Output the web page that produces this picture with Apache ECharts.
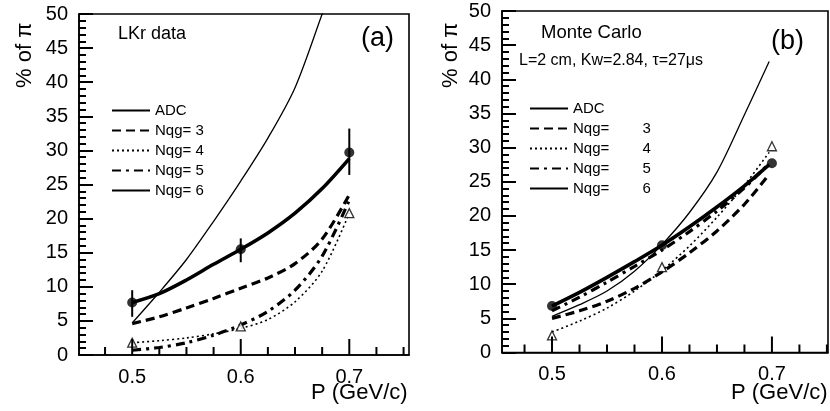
<!DOCTYPE html>
<html>
<head>
<meta charset="utf-8">
<script src="https://cdn.jsdelivr.net/npm/echarts@6/dist/echarts.min.js"></script>
<style>html,body{margin:0;padding:0;background:#fff;}#c{width:830px;height:411px;}</style>
</head>
<body>
<div id="c"></div>
<script>
// ---------- tick labels / tick positions ----------
const xMajorTicks = [0.5, 0.6, 0.7];
const xMinorTicks = [0.475, 0.525, 0.55, 0.575, 0.625, 0.65, 0.675, 0.725, 0.75];
const yMajorTicks = [0, 5, 10, 15, 20, 25, 30, 35, 40, 45, 50];
const yMinorTicks = [1, 2, 3, 4, 6, 7, 8, 9, 11, 12, 13, 14, 16, 17, 18, 19, 21, 22, 23, 24,
                     26, 27, 28, 29, 31, 32, 33, 34, 36, 37, 38, 39, 41, 42, 43, 44, 46, 47, 48, 49];

// ---------- panel (a): LKr data ----------
const pA = [0.5, 0.525, 0.55, 0.575, 0.6, 0.625, 0.65, 0.675, 0.7];
const a_adc  = [7.7, 9.0, 11.0, 13.3, 15.5, 17.9, 20.8, 24.4, 28.8];
const a_nqg3 = [4.6, 5.6, 6.9, 8.3, 9.8, 11.3, 13.4, 17.0, 23.5];
const a_nqg4 = [1.8, 2.1, 2.5, 3.1, 3.9, 5.2, 7.8, 12.3, 20.8];
const a_nqg5 = [0.7, 1.1, 1.8, 2.9, 4.4, 6.4, 9.5, 14.5, 22.7];
const a_nqg6 = [4.7, 9.2, 14.0, 19.6, 25.5, 31.8, 39.2, 50.0, 61.0];
const a_adcPts = [[0.5,7.7],[0.6,15.5],[0.7,29.7]];
const a_adcErr = [[0.5,5.6,9.5],[0.6,13.6,17.1],[0.7,26.4,33.2]];
const a_triPts = [[0.5,1.8],[0.6,4.2],[0.7,20.8]];

// ---------- panel (b): Monte Carlo ----------
const pB = [0.5, 0.525, 0.55, 0.575, 0.6, 0.625, 0.65, 0.675, 0.6975];
const b_adc  = [6.8, 8.8, 11.0, 13.3, 15.7, 18.4, 21.3, 24.4, 27.5];
const b_nqg3 = [5.0, 6.1, 7.5, 9.4, 11.8, 14.6, 17.8, 21.7, 26.1];
const b_nqg4 = [3.0, 4.6, 6.5, 9.0, 12.0, 15.6, 19.8, 24.5, 29.3];
const b_nqg5 = [6.1, 8.1, 10.3, 12.6, 15.0, 17.7, 20.7, 24.1, 27.7];
const b_nqg6 = [5.3, 7.0, 9.0, 11.9, 15.8, 20.5, 26.4, 34.8, 42.6];
const b_adcPts = [[0.5,6.8],[0.6,15.7],[0.7,27.7]];
const b_triPts = [[0.5,2.5],[0.6,12.5],[0.7,30.2]];

const seriesNames = ['ADC', 'Nqg= 3', 'Nqg= 4', 'Nqg= 5', 'Nqg= 6'];

const FONT = 'Liberation Sans';
const styles = {
  'ADC':    {width: 3.6, type: 'solid'},
  'Nqg= 3': {width: 3.2, type: [9, 5]},
  'Nqg= 4': {width: 1.6, type: [2, 3]},
  'Nqg= 5': {width: 3.2, type: [9, 5, 3, 5]},
  'Nqg= 6': {width: 1.3, type: 'solid'}
};
const xRange = [[0.451, 0.755], [0.4545, 0.751]];
const gridPx = [{left: 79, top: 14, width: 330, height: 341}, {left: 502, top: 11, width: 326, height: 341.5}];

const zip = (xs, ys) => xs.map((x, i) => [x, ys[i]]);

function lineSeries(name, data, gi) {
  return {
    name, type: 'line', xAxisIndex: gi, yAxisIndex: gi, data,
    smooth: 0.3, symbol: 'none', clip: true,
    lineStyle: {color: '#000', width: styles[name].width, type: styles[name].type},
    itemStyle: {color: '#000'}, z: 3
  };
}

function xAxis(gi) {
  return {type: 'value', gridIndex: gi, min: xRange[gi][0], max: xRange[gi][1], position: 'bottom',
    axisLine: {show: true, onZero: false, lineStyle: {color: '#000', width: 1.6}},
    axisTick: {show: false},
    axisLabel: {show: true, customValues: xMajorTicks, color: '#000', fontSize: 20, fontFamily: FONT, margin: 12,
                formatter: v => v.toFixed(1)},
    splitLine: {show: false}};
}
function yAxis(gi) {
  return {type: 'value', gridIndex: gi, min: 0, max: 50, interval: 5, position: 'left',
    axisLine: {show: true, onZero: false, lineStyle: {color: '#000', width: 1.6}},
    axisTick: {show: true, inside: true, length: 14, lineStyle: {color: '#000', width: 2}},
    minorTick: {show: true, splitNumber: 5, length: 7, lineStyle: {color: '#000', width: 2}},
    axisLabel: {show: true, color: '#000', fontSize: 20, fontFamily: FONT, margin: 11},
    splitLine: {show: false}};
}

// inward x tick marks as short segments through the axis scales (px length converted to data units)
function xTicks(gi, values, lenPx) {
  const dy = lenPx * 50 / gridPx[gi].height;
  return {
    type: 'custom', xAxisIndex: gi, yAxisIndex: gi, z: 6,
    data: values.map(v => [v, 0, dy]),
    encode: {x: 0, y: [1, 2]},
    renderItem: (params, api) => {
      const p1 = api.coord([api.value(0), api.value(1)]);
      const p2 = api.coord([api.value(0), api.value(2)]);
      return {type: 'line', shape: {x1: p1[0], y1: p1[1], x2: p2[0], y2: p2[1]},
              style: {stroke: '#000', lineWidth: 2}};
    }
  };
}

function errSeries(data, gi) {
  return {
    type: 'custom', xAxisIndex: gi, yAxisIndex: gi, data, z: 4,
    encode: {x: 0, y: [1, 2]},
    renderItem: (params, api) => {
      const p1 = api.coord([api.value(0), api.value(1)]);
      const p2 = api.coord([api.value(0), api.value(2)]);
      return {type: 'line', shape: {x1: p1[0], y1: p1[1], x2: p2[0], y2: p2[1]},
              style: {stroke: '#000', lineWidth: 2}};
    }
  };
}
function dotSeries(data, gi) {
  return {type: 'scatter', xAxisIndex: gi, yAxisIndex: gi, data, symbol: 'circle', symbolSize: 10,
          itemStyle: {color: '#000'}, z: 5};
}
function triSeries(data, gi) {
  return {type: 'scatter', xAxisIndex: gi, yAxisIndex: gi, data, symbol: 'triangle', symbolSize: 9,
          itemStyle: {color: '#fff', borderColor: '#000', borderWidth: 1.3}, z: 5};
}

const aData = [a_adc, a_nqg3, a_nqg4, a_nqg5, a_nqg6];
const bData = [b_adc, b_nqg3, b_nqg4, b_nqg5, b_nqg6];

const series = [];
seriesNames.forEach((n, i) => series.push(lineSeries(n, zip(pA, aData[i]), 0)));
seriesNames.forEach((n, i) => series.push(lineSeries(n, zip(pB, bData[i]), 1)));
series.push(errSeries(a_adcErr, 0));
series.push(dotSeries(a_adcPts, 0));
series.push(triSeries(a_triPts, 0));
series.push(dotSeries(b_adcPts, 1));
series.push(triSeries(b_triPts, 1));
[0, 1].forEach(gi => {
  series.push(xTicks(gi, xMajorTicks, 16));
  series.push(xTicks(gi, xMinorTicks, 8));
});

const legendCommon = {orient: 'vertical', itemWidth: 38, itemHeight: 12, itemGap: 5,
  data: seriesNames, selectedMode: false,
  itemStyle: {opacity: 0},
  textStyle: {fontSize: 15, color: '#000', fontFamily: FONT}};

const chart = echarts.init(document.getElementById('c'), null, {renderer: 'canvas'});
chart.setOption({
  animation: false,
  backgroundColor: '#fff',
  textStyle: {fontFamily: FONT, color: '#000'},
  grid: gridPx.map(g => Object.assign({show: true, borderColor: '#000', borderWidth: 1.6}, g)),
  xAxis: [xAxis(0), xAxis(1)],
  yAxis: [yAxis(0), yAxis(1)],
  legend: [
    Object.assign({left: 106, top: 98}, legendCommon),
    Object.assign({left: 524, top: 96,
      formatter: n => n === 'ADC' ? 'ADC' : n.replace('= ', '=        ')}, legendCommon)
  ],
  graphic: [
    {type: 'text', left: 118, top: 25, style: {text: 'LKr data', font: '18px "Liberation Sans"', fill: '#000'}},
    {type: 'text', left: 361, top: 25, style: {text: '(a)', font: '27px "Liberation Sans"', fill: '#000'}},
    {type: 'text', left: 541, top: 23, style: {text: 'Monte Carlo', font: '18.5px "Liberation Sans"', fill: '#000'}},
    {type: 'text', left: 519, top: 53, style: {text: 'L=2 cm, Kw=2.84, τ=27μs', font: '16px "Liberation Sans"', fill: '#000'}},
    {type: 'text', left: 771, top: 28, style: {text: '(b)', font: '27px "Liberation Sans"', fill: '#000'}},
    {type: 'text', x: 14, y: 88, rotation: Math.PI / 2, style: {text: '% of π', font: '22px "Liberation Sans"', fill: '#000'}},
    {type: 'text', x: 440, y: 88, rotation: Math.PI / 2, style: {text: '% of π', font: '22px "Liberation Sans"', fill: '#000'}},
    {type: 'text', left: 311, top: 382, style: {text: 'P (GeV/c)', font: '22px "Liberation Sans"', fill: '#000'}},
    {type: 'text', left: 731, top: 382, style: {text: 'P (GeV/c)', font: '22px "Liberation Sans"', fill: '#000'}}
  ],
  series
});
</script>
</body>
</html>
